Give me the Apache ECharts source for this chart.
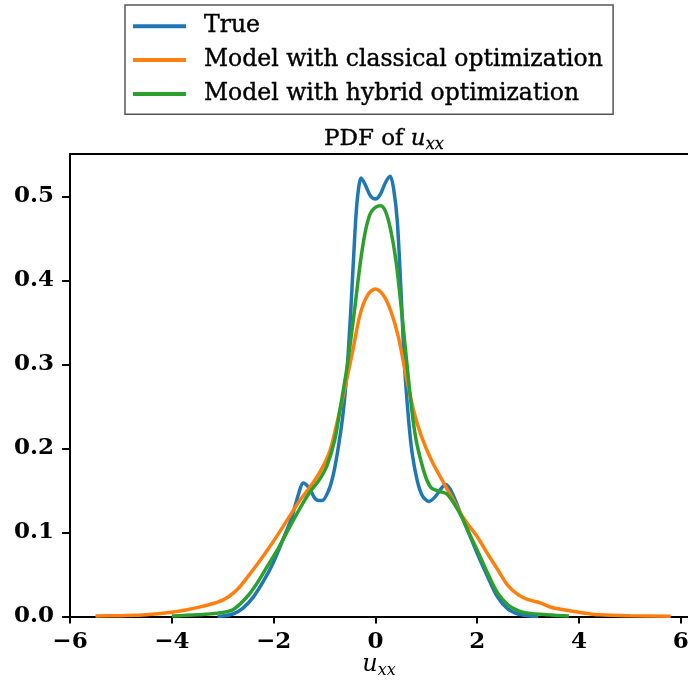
<!DOCTYPE html>
<html><head><meta charset="utf-8">
<script src="https://cdn.jsdelivr.net/npm/echarts@6/dist/echarts.min.js"></script>
<style>html,body{margin:0;padding:0;background:#fff}#c{width:688px;height:687px}</style>
</head><body><div id="c"></div>
<script>
const seriesNames = ['True', 'Model with classical optimization', 'Model with hybrid optimization'];
const xTicks = [-6, -4, -2, 0, 2, 4, 6];
const yTicks = [0, 0.1, 0.2, 0.3, 0.4, 0.5];

const trueX = [-3.1,-2.8,-2.6,-2.4,-2.2,-2.0,-1.8,-1.65,-1.5,-1.42,-1.3,-1.18,-1.05,-0.92,-0.82,-0.72,-0.63,-0.55,-0.47,-0.4,-0.35,-0.28,-0.2,-0.1,0.0,0.1,0.2,0.29,0.36,0.43,0.5,0.57,0.65,0.72,0.82,0.92,1.05,1.18,1.3,1.38,1.5,1.67,1.85,2.0,2.2,2.4,2.6,2.8,3.0,3.2];
const trueY = [0.0,0.003,0.010,0.023,0.042,0.065,0.094,0.117,0.148,0.159,0.153,0.140,0.138,0.150,0.171,0.205,0.245,0.30,0.38,0.46,0.50,0.522,0.514,0.501,0.497,0.503,0.517,0.524,0.508,0.47,0.39,0.30,0.235,0.195,0.162,0.144,0.137,0.143,0.153,0.157,0.148,0.123,0.097,0.075,0.048,0.023,0.009,0.003,0.001,0.0];

const classX = [-5.5,-5.0,-4.5,-4.0,-3.7,-3.4,-3.1,-2.9,-2.7,-2.5,-2.3,-2.1,-1.9,-1.7,-1.5,-1.3,-1.1,-0.9,-0.75,-0.6,-0.45,-0.3,-0.15,0.0,0.15,0.3,0.45,0.6,0.75,0.9,1.1,1.35,1.5,1.7,1.85,2.0,2.2,2.4,2.6,2.8,3.0,3.25,3.45,3.7,4.0,4.4,5.0,5.8];
const classY = [0.0005,0.001,0.002,0.005,0.008,0.012,0.017,0.023,0.033,0.048,0.064,0.081,0.099,0.118,0.137,0.153,0.171,0.196,0.232,0.272,0.315,0.36,0.383,0.39,0.383,0.364,0.333,0.287,0.245,0.215,0.186,0.158,0.142,0.12,0.107,0.095,0.075,0.056,0.037,0.026,0.020,0.016,0.011,0.008,0.005,0.002,0.0008,0.0003];

const hybX = [-4.0,-3.5,-3.1,-2.8,-2.5,-2.3,-2.1,-1.9,-1.7,-1.5,-1.3,-1.1,-0.95,-0.8,-0.7,-0.55,-0.4,-0.3,-0.2,-0.1,0.0,0.1,0.2,0.3,0.4,0.5,0.6,0.72,0.8,0.9,1.0,1.1,1.25,1.4,1.55,1.7,1.85,2.0,2.2,2.4,2.6,2.8,3.0,3.4,3.8];
const hybY = [0.0005,0.002,0.004,0.008,0.025,0.042,0.062,0.082,0.105,0.127,0.147,0.163,0.18,0.21,0.245,0.30,0.37,0.42,0.458,0.48,0.487,0.489,0.482,0.46,0.425,0.372,0.312,0.243,0.21,0.184,0.164,0.153,0.149,0.146,0.134,0.118,0.098,0.079,0.052,0.028,0.014,0.007,0.004,0.002,0.0005];

const colors = ['#1f77b4', '#ff7f0e', '#2ca02c'];
const SERIF = '"DejaVu Serif", serif';
const XMIN = -6, XMAX = 6.14, YMIN = 0, YMAX = 0.5506;

function pairs(xs, ys) { return xs.map((x, i) => [x, ys[i]]); }
const dataSets = [pairs(trueX, trueY), pairs(classX, classY), pairs(hybX, hybY)];

const chart = echarts.init(document.getElementById('c'), null, {renderer: 'canvas'});
chart.setOption({
  animation: false,
  backgroundColor: '#fff',
  color: colors,
  title: {
    text: '{a|PDF of }{u|u}{s|xx}',
    left: 319, top: 120,
    textStyle: {
      rich: {
        a: {fontFamily: SERIF, fontSize: 23, fontWeight: 'normal', color: '#000', textBorderColor: '#000', textBorderWidth: 0.4},
        u: {fontFamily: SERIF, fontStyle: 'italic', fontWeight: 'normal', fontSize: 23, color: '#000', textBorderColor: '#000', textBorderWidth: 0.3},
        s: {fontFamily: SERIF, fontStyle: 'italic', fontWeight: 'normal', fontSize: 16, color: '#000', padding: [12, 0, 0, 0], textBorderColor: '#000', textBorderWidth: 0.3}
      }
    }
  },
  legend: {
    left: 125, top: 5,
    orient: 'vertical',
    icon: 'rect',
    itemWidth: 53, itemHeight: 4,
    itemGap: 9.5,
    padding: [9, 10, 8, 8],
    borderColor: '#555', borderWidth: 1.5, borderRadius: 0,
    backgroundColor: '#fff',
    textStyle: {fontFamily: SERIF, fontSize: 23.5, color: '#000', lineHeight: 22, padding: [0, 0, 0, 13], textBorderColor: '#000', textBorderWidth: 0.4},
    data: seriesNames
  },
  grid: {
    left: 70, top: 154, right: 0, bottom: 70.5,
    show: false, containLabel: false, outerBoundsMode: 'none'
  },
  xAxis: [{
    type: 'value', min: XMIN, max: XMAX,
    splitLine: {show: false},
    axisLine: {onZero: false, lineStyle: {color: '#000', width: 2}},
    axisTick: {length: 7, lineStyle: {width: 2, color: '#000'}, customValues: xTicks},
    axisLabel: {
      customValues: xTicks, margin: 14,
      fontFamily: SERIF, fontWeight: 'bold', fontSize: 23, color: '#000',
      formatter: v => (v < 0 ? '\u2212' + Math.abs(v) : String(v))
    },
    name: '{u|u}{s|xx}', nameLocation: 'middle', nameGap: 34, nameMoveOverlap: false,
    nameTextStyle: {
      rich: {
        u: {fontFamily: SERIF, fontStyle: 'italic', fontSize: 24, color: '#000'},
        s: {fontFamily: SERIF, fontStyle: 'italic', fontSize: 16, color: '#000', padding: [12, 0, 0, 0]}
      }
    }
  }, {
    type: 'value', position: 'top', min: XMIN, max: XMAX,
    splitLine: {show: false}, axisTick: {show: false}, axisLabel: {show: false},
    axisLine: {show: true, onZero: false, lineStyle: {color: '#000', width: 2}}
  }],
  yAxis: {
    type: 'value', min: YMIN, max: YMAX,
    splitLine: {show: false},
    axisLine: {onZero: false, lineStyle: {color: '#000', width: 2}},
    axisTick: {length: 8, lineStyle: {width: 2, color: '#000'}, customValues: yTicks},
    axisLabel: {
      customValues: yTicks, margin: 16,
      fontFamily: SERIF, fontWeight: 'bold', fontSize: 23, color: '#000',
      formatter: v => v.toFixed(1)
    }
  },
  series: seriesNames.map((n, i) => ({
    name: n, type: 'line', data: dataSets[i], smooth: 0.3,
    xAxisIndex: 0,
    showSymbol: false, symbol: 'none',
    lineStyle: {width: 3.5, color: colors[i]},
    itemStyle: {color: colors[i]},
    z: 2 + i
  }))
});
</script></body></html>
